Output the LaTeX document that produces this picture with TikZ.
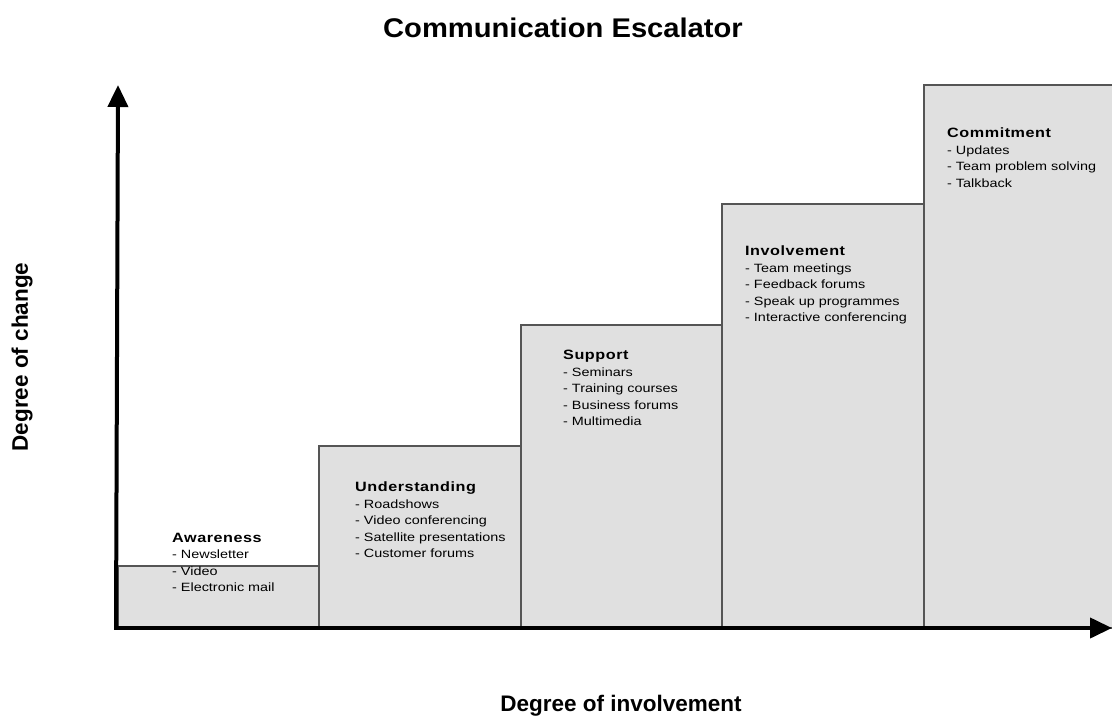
\documentclass[tikz,border=0pt]{standalone}
\usepackage{fontspec}
\setmainfont{Liberation Sans}
\newfontfamily\itemfont[FakeStretch=1.2]{Liberation Sans}
\newfontfamily\headfont[LetterSpace=4,FakeStretch=1.2]{Liberation Sans}
\newfontfamily\titlefont[FakeStretch=1.08]{Liberation Sans}
\usetikzlibrary{arrows.meta}
\definecolor{stepfill}{HTML}{E0E0E0}
\definecolor{stepline}{HTML}{555555}
\tikzset{
  stepbox/.style={draw=stepline, fill=stepfill, line width=1.5pt},
  axis/.style={line width=4pt, -{Triangle[width=20pt,length=22pt]}},
  steptext/.style={anchor=north west, inner sep=0pt, align=left, font=\itemfont\fontsize{12}{16.5}\selectfont},
  axislabel/.style={font=\fontsize{22.5}{26}\selectfont\bfseries}
}
\newcommand{\stephead}[1]{{\headfont\fontsize{13.5}{17}\selectfont\bfseries #1}}
\begin{document}
\begin{tikzpicture}[x=1pt,y=-1pt]
\useasboundingbox (0,0) rectangle (1112,717);
% steps
\draw[stepbox] (118,628) rectangle (319,566);
\draw[stepbox] (319,628) rectangle (521,446);
\draw[stepbox] (521,628) rectangle (722,325);
\draw[stepbox] (722,628) rectangle (924,204);
\draw[stepbox] (924,628) rectangle (1120,85);
% texts
\node[steptext] (awareness) at (172,533) {\stephead{Awareness}\\- Newsletter\\- Video\\- Electronic mail};
\node[steptext] (understanding) at (355,482) {\stephead{Understanding}\\- Roadshows\\- Video conferencing\\- Satellite presentations\\- Customer forums};
\node[steptext] (support) at (563,350) {\stephead{Support}\\- Seminars\\- Training courses\\- Business forums\\- Multimedia};
\node[steptext] (involvement) at (745,246) {\stephead{Involvement}\\- Team meetings\\- Feedback forums\\- Speak up programmes\\- Interactive conferencing};
\node[steptext] (commitment) at (947,128) {\stephead{Commitment}\\- Updates\\- Team problem solving\\- Talkback};
% axes
\coordinate (origin) at (118,628);
\coordinate (ytip) at (118,85);
\coordinate (xtip) at (1112,628);
\draw[axis] ([xshift=-2pt]origin) -- (ytip);
\draw[axis] ([xshift=-4pt]origin) -- (xtip);
% labels
\node[font=\titlefont\fontsize{27}{30}\selectfont\bfseries] (title) at (563,28) {Communication Escalator};
\node[axislabel, rotate=90] (ylabel) at (22,357) {Degree of change};
\node[axislabel] (xlabel) at (621,706) {Degree of involvement};
\end{tikzpicture}
\end{document}
